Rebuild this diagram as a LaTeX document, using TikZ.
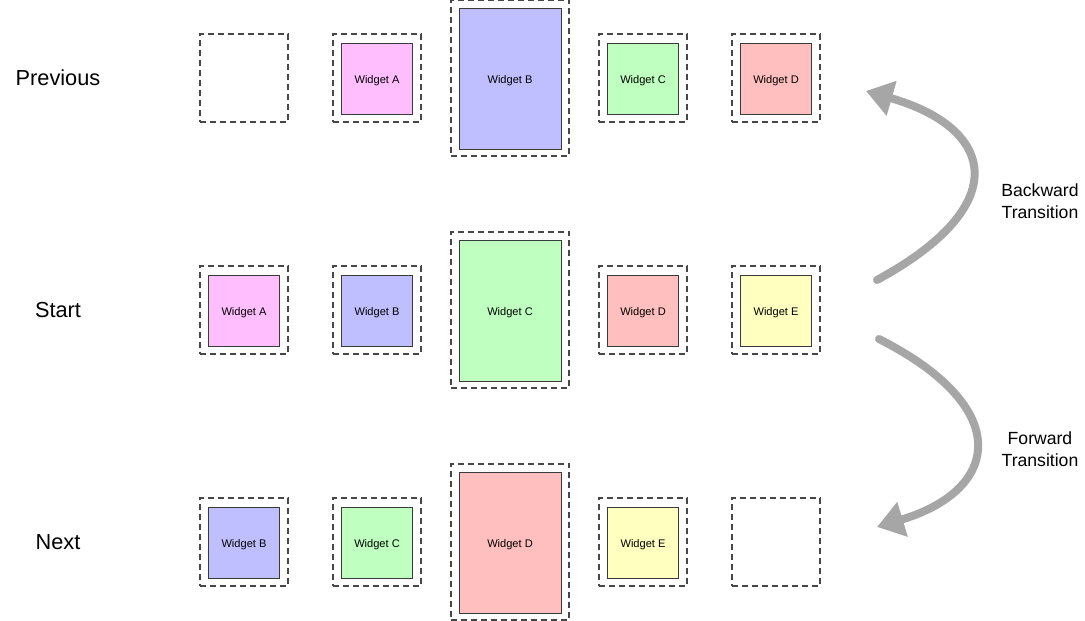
\documentclass[tikz,border=0pt]{standalone}
\usepackage{fontspec}
\setmainfont{Liberation Sans}
\usetikzlibrary{arrows.meta}

\definecolor{dashgray}{HTML}{474747}
\definecolor{edgegray}{HTML}{3A3A3A}
\definecolor{arrowgray}{HTML}{A6A6A6}
\definecolor{pinkw}{HTML}{FFBFFF}
\definecolor{bluew}{HTML}{BFBFFF}
\definecolor{greenw}{HTML}{BFFFBF}
\definecolor{redw}{HTML}{FFBFBF}
\definecolor{yelloww}{HTML}{FFFFBF}

\begin{document}
\begin{tikzpicture}[x=0.75pt,y=-0.75pt,
    slot/.style={draw=dashgray,line width=1.4pt,dash pattern=on 4.5pt off 3pt,
                 minimum width=66pt,minimum height=66pt,inner sep=0pt},
    bigslot/.style={slot,minimum width=88.5pt,minimum height=117.5pt},
    widget/.style={draw=edgegray,line width=0.6pt,minimum width=53pt,minimum height=53pt,
                   inner sep=0pt,text depth=0pt,yshift=-0.75pt,
                   font=\fontsize{8.3pt}{10pt}\selectfont},
    bigwidget/.style={widget,minimum width=76.5pt,minimum height=105.75pt},
    rowlabel/.style={font=\fontsize{16.3pt}{19pt}\selectfont},
    translabel/.style={align=center,font=\fontsize{13.2pt}{16.5pt}\selectfont},
    transarrow/.style={draw=arrowgray,line width=6pt,line cap=round,
                       -{Triangle[length=20pt,width=26pt,fill=arrowgray]}}]
\useasboundingbox (0,0) rectangle (1085,621);

% row labels
\node[rowlabel] (prevlabel) at (58,78) {Previous};
\node[rowlabel] (startlabel) at (58,310) {Start};
\node[rowlabel] (nextlabel) at (58,542) {Next};

% previous row
\node[slot] (p1) at (244,78) {};
\node[slot] (p2) at (377,78) {};
\node[bigslot] (p3) at (510,78) {};
\node[slot] (p4) at (643,78) {};
\node[slot] (p5) at (776,78) {};
\node[widget,fill=pinkw] (pA) at (p2) {Widget A};
\node[bigwidget,fill=bluew] (pB) at (p3) {Widget B};
\node[widget,fill=greenw] (pC) at (p4) {Widget C};
\node[widget,fill=redw] (pD) at (p5) {Widget D};

% start row
\node[slot] (s1) at (244,310) {};
\node[slot] (s2) at (377,310) {};
\node[bigslot] (s3) at (510,310) {};
\node[slot] (s4) at (643,310) {};
\node[slot] (s5) at (776,310) {};
\node[widget,fill=pinkw] (sA) at (s1) {Widget A};
\node[widget,fill=bluew] (sB) at (s2) {Widget B};
\node[bigwidget,fill=greenw] (sC) at (s3) {Widget C};
\node[widget,fill=redw] (sD) at (s4) {Widget D};
\node[widget,fill=yelloww] (sE) at (s5) {Widget E};

% next row
\node[slot] (n1) at (244,542) {};
\node[slot] (n2) at (377,542) {};
\node[bigslot] (n3) at (510,542) {};
\node[slot] (n4) at (643,542) {};
\node[slot] (n5) at (776,542) {};
\node[widget,fill=bluew] (nB) at (n1) {Widget B};
\node[widget,fill=greenw] (nC) at (n2) {Widget C};
\node[bigwidget,fill=redw] (nD) at (n3) {Widget D};
\node[widget,fill=yelloww] (nE) at (n4) {Widget E};

% transitions
\coordinate (bstart) at (877,280);
\coordinate (btip) at (866,91);
\coordinate (fstart) at (879,339);
\coordinate (ftip) at (877,527);
\draw[transarrow] (bstart) .. controls (1015,205) and (995,128) .. (btip);
\draw[transarrow] (fstart) .. controls (1015,408) and (1000,490) .. (ftip);
\node[translabel] (backlabel) at (1040,201) {Backward\\Transition};
\node[translabel] (fwdlabel) at (1040,449) {Forward\\Transition};
\end{tikzpicture}
\end{document}
